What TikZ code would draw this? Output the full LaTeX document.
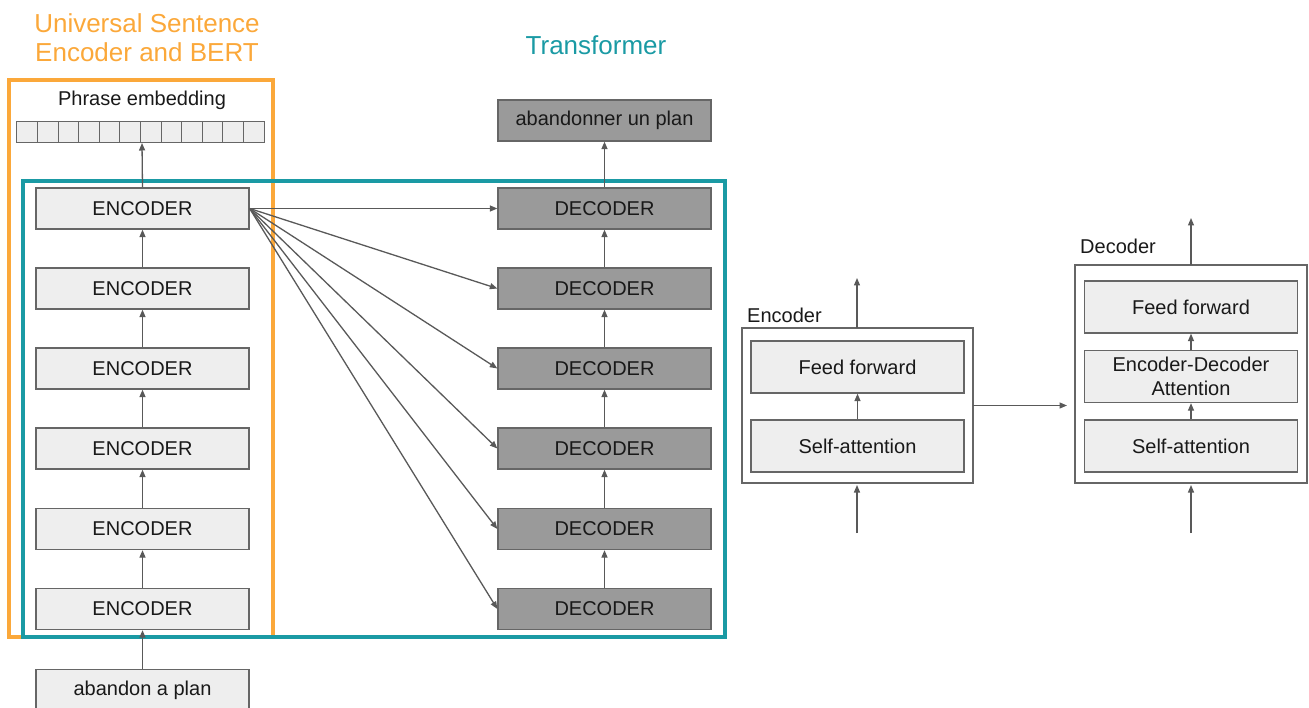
\documentclass[tikz,border=0pt]{standalone}
\usepackage{fontspec}
\setmainfont{Liberation Sans}
\usetikzlibrary{arrows.meta}
\definecolor{orng}{HTML}{FBA83A}
\definecolor{tealc}{HTML}{1A9AA4}
\definecolor{lbox}{HTML}{EEEEEE}
\definecolor{dbox}{HTML}{9A9A9A}
\definecolor{edgec}{HTML}{666666}
\definecolor{arr}{HTML}{595959}
\begin{document}
\begin{tikzpicture}[x=1pt,y=-1pt,
  boxbase/.style={draw=edgec, line width=1.3pt, minimum width=213pt, minimum height=41pt, inner sep=0pt, font=\fontsize{20}{24}\selectfont, text=black!90, align=center},
  lightbox/.style={boxbase, fill=lbox},
  darkbox/.style={boxbase, fill=dbox},
  partbox/.style={boxbase, fill=lbox, minimum height=52pt},
  outerbox/.style={draw=edgec, line width=1.3pt, fill=none},
  arrowc/.style={draw=arr, line width=1.3pt, -{Triangle[length=7.5pt,width=6pt]}},
  cell/.style={draw=edgec, fill=lbox, line width=1pt, minimum width=20.7pt, minimum height=21pt, inner sep=0pt},
  lbl/.style={font=\fontsize{20}{24}\selectfont, text=black!90, inner sep=0pt}
]
\useasboundingbox (0,0) rectangle (1309,708);

% group frames
\draw[orng, line width=3.5pt] (9,80) rectangle (273,637);
\draw[tealc, line width=3.5pt] (23,181) rectangle (725,637);

% titles
\node[font=\fontsize{26}{29}\selectfont, text=orng, align=center, inner sep=0pt] (ttl) at (147,37.5) {Universal Sentence\\Encoder and BERT};
\node[font=\fontsize{26}{29}\selectfont, text=tealc, inner sep=0pt] (ttr) at (596,45) {Transformer};

% phrase embedding
\node[lbl] (pe) at (142,100) {Phrase embedding};
\foreach \i in {0,...,11} {
  \node[cell] (c\i) at ({17+20.6*\i+10.3},132.5) {};
}
\coordinate (embbot) at (142,143);

% encoders and decoders
\foreach \i/\y in {1/208.5,2/288.5,3/368.5,4/448.5,5/529,6/609} {
  \node[lightbox] (e\i) at (142.5,\y) {ENCODER};
  \node[darkbox] (d\i) at (604.5,\y) {DECODER};
}
\node[lightbox] (inp) at (142.5,690) {abandon a plan};
\node[darkbox] (out) at (604.5,120.5) {abandonner un plan};

\draw[arrowc] (e1.north) -- (embbot);
\foreach \a/\b in {2/1,3/2,4/3,5/4,6/5} {
  \draw[arrowc] (e\a.north) -- (e\b.south);
  \draw[arrowc] (d\a.north) -- (d\b.south);
}
\draw[arrowc] (inp.north) -- (e6.south);
\draw[arrowc] (d1.north) -- (out.south);
\foreach \i in {1,...,6} {
  \draw[arrowc] (e1.east) -- (d\i.west);
}

% right: encoder detail
\draw[outerbox] (742,328) rectangle (973,483);
\node[lbl, anchor=west] (enclbl) at (747,315) {Encoder};
\node[partbox] (eff) at (857.5,367) {Feed forward};
\node[partbox] (esa) at (857.5,446) {Self-attention};
\coordinate (etop) at (857,328);
\coordinate (etopend) at (857,278);
\coordinate (ebotstart) at (857,533);
\coordinate (ebotend) at (857,485);
\coordinate (eright) at (973,405.5);
\coordinate (eto) at (1067,405.5);
\draw[arrowc] (esa.north) -- (eff.south);
\draw[arrowc] (etop) -- (etopend);
\draw[arrowc] (ebotstart) -- (ebotend);
\draw[arrowc] (eright) -- (eto);

% right: decoder detail
\draw[outerbox] (1075,265) rectangle (1307,483);
\node[lbl, anchor=west] (declbl) at (1080,246) {Decoder};
\node[partbox] (dff) at (1191,307) {Feed forward};
\node[partbox] (dea) at (1191,376.5) {Encoder-Decoder\\Attention};
\node[partbox] (dsa) at (1191,446) {Self-attention};
\coordinate (dtop) at (1191,265);
\coordinate (dtopend) at (1191,218);
\coordinate (dbotstart) at (1191,533);
\coordinate (dbotend) at (1191,485);
\draw[arrowc] (dsa.north) -- (dea.south);
\draw[arrowc] (dea.north) -- (dff.south);
\draw[arrowc] (dtop) -- (dtopend);
\draw[arrowc] (dbotstart) -- (dbotend);
\end{tikzpicture}
\end{document}
